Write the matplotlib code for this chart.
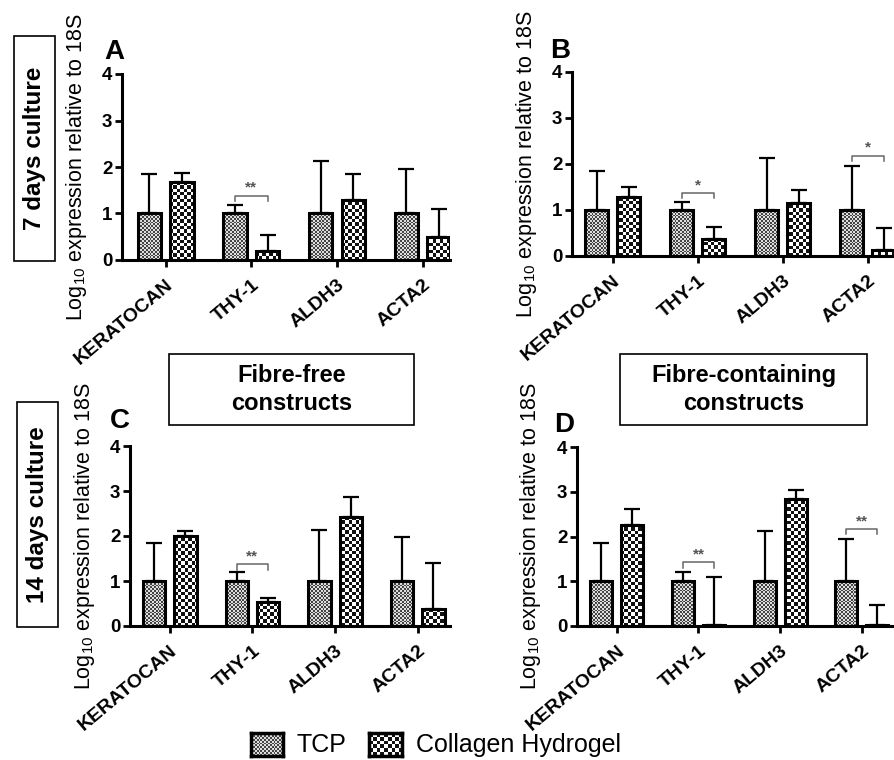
import numpy as np
import matplotlib
matplotlib.use("Agg")
import matplotlib.pyplot as plt
from matplotlib.patches import Rectangle

plt.rcParams['font.family'] = ['Liberation Sans', 'DejaVu Sans']

W, H = 895, 760

genes = ["KERATOCAN", "THY-1", "ALDH3", "ACTA2"]
series_names = ["TCP", "Collagen Hydrogel"]

# mean log10 expression and upper error (SD) per panel
tcp_A = [1.0, 1.0, 1.0, 1.0]
tcp_err_A = [0.85, 0.19, 1.12, 0.95]
gel_A = [1.67, 0.20, 1.30, 0.50]
gel_err_A = [0.21, 0.34, 0.56, 0.60]

tcp_B = [1.0, 1.0, 1.0, 1.0]
tcp_err_B = [0.84, 0.18, 1.13, 0.96]
gel_B = [1.29, 0.38, 1.15, 0.12]
gel_err_B = [0.22, 0.24, 0.29, 0.48]

tcp_C = [1.0, 1.0, 1.0, 1.0]
tcp_err_C = [0.85, 0.20, 1.13, 0.97]
gel_C = [2.00, 0.53, 2.43, 0.37]
gel_err_C = [0.11, 0.10, 0.44, 1.02]

tcp_D = [1.0, 1.0, 1.0, 1.0]
tcp_err_D = [0.85, 0.20, 1.13, 0.95]
gel_D = [2.26, 0.02, 2.83, 0.02]
gel_err_D = [0.35, 1.07, 0.22, 0.46]

# significance brackets: (gene index, bracket height, label)
sig_A = [(1, 1.38, "**")]
sig_B = [(1, 1.37, "*"), (3, 2.18, "*")]
sig_C = [(1, 1.37, "**")]
sig_D = [(1, 1.42, "**"), (3, 2.17, "**")]

yticks = [0, 1, 2, 3, 4]

fig = plt.figure(figsize=(W / 100, H / 100), dpi=100)


def px_box(l, t, r, b):
    return [l / W, 1 - b / H, (r - l) / W, (b - t) / H]


def checker(ny, nx, c1, c2):
    yy, xx = np.mgrid[0:ny, 0:nx]
    m = (yy + xx) % 2
    a = np.array(matplotlib.colors.to_rgb(c1))
    b = np.array(matplotlib.colors.to_rgb(c2))
    return np.where(m[..., None] == 0, a, b)


PATTERNS = {
    "tcp": (1.8, "#444444", "#dedede"),
    "gel": (3.4, "#111111", "#ffffff"),
}


def fill_pattern(ax, patch, kind, xlim, ylim, wpx, hpx):
    cell, c1, c2 = PATTERNS[kind]
    nx = max(int(round(wpx / cell)), 1)
    ny = max(int(round(hpx / cell)), 1)
    im = ax.imshow(checker(ny, nx, c1, c2), extent=(xlim[0], xlim[1], ylim[0], ylim[1]),
                   aspect='auto', interpolation='nearest', zorder=2, origin='lower')
    im.set_clip_path(patch)


def panel(box, xlim, tcp, tcp_err, gel, gel_err, sigs, letter, letter_xy, ylab_x):
    l, t, r, b = box
    ax = fig.add_axes(px_box(l, t, r, b))
    wpx, hpx = r - l, b - t
    ylim = (0, 4)
    x = np.arange(len(genes))
    off, bw = 0.19, 0.27
    for vals, errs, sgn, kind in [(tcp, tcp_err, -1, "tcp"), (gel, gel_err, 1, "gel")]:
        pos = x + sgn * off
        bars = ax.bar(pos, vals, width=bw, facecolor='white', edgecolor='black',
                      linewidth=2.2, zorder=3)
        for p in bars.patches:
            p.set_facecolor('none')
            fill_pattern(ax, p, kind, xlim, ylim, wpx, hpx)
        ax.errorbar(pos, vals, yerr=[np.zeros(len(vals)), errs], fmt='none',
                    ecolor='black', elinewidth=1.6, capsize=5.5, capthick=1.6, zorder=2.5)
    for gi, hgt, lab in sigs:
        x0, x1 = gi - off, gi + off
        ax.plot([x0, x0, x1, x1], [hgt - 0.12, hgt, hgt, hgt - 0.12], color='#666666',
                linewidth=1.1, zorder=4, clip_on=False)
        ax.text(gi, hgt + 0.02, lab, ha='center', va='bottom', fontsize=11,
                color='#555555', fontweight='bold')
    ax.set_xlim(*xlim)
    ax.set_ylim(*ylim)
    ax.set_yticks(yticks)
    ax.set_yticklabels([str(v) for v in yticks], fontweight='bold', fontsize=13.5)
    ax.set_xticks(x)
    ax.set_xticklabels(genes, rotation=40, ha='right', rotation_mode='anchor',
                       fontweight='bold', fontsize=14)
    ax.tick_params(axis='both', direction='out', length=5, width=2, color='black', pad=2)
    ax.tick_params(axis='x', pad=7)
    for s in ['top', 'right']:
        ax.spines[s].set_visible(False)
    for s in ['left', 'bottom']:
        ax.spines[s].set_linewidth(2.2)
    ax.set_ylabel(r"Log$_{\mathregular{10}}$ expression relative to 18S", fontsize=15.5)
    ax.yaxis.set_label_coords((ylab_x - l) / wpx, 0.5)
    fig.text(letter_xy[0] / W, 1 - letter_xy[1] / H, letter, ha='center', va='center',
             fontsize=20, fontweight='bold')
    return ax


panel((122, 74, 450, 260), (-0.51, 3.32), tcp_A, tcp_err_A, gel_A, gel_err_A, sig_A,
      "A", (114, 52), 89)
panel((572, 72, 895, 256), (-0.48, 3.32), tcp_B, tcp_err_B, gel_B, gel_err_B, sig_B,
      "B", (560, 51), 539)
panel((130, 446, 450, 626), (-0.48, 3.39), tcp_C, tcp_err_C, gel_C, gel_err_C, sig_C,
      "C", (120, 421), 97)
panel((577, 447, 895, 626), (-0.49, 3.41), tcp_D, tcp_err_D, gel_D, gel_err_D, sig_D,
      "D", (564, 425), 543)


def boxed_text(l, t, r, b, text, rot=0, fs=14):
    fig.patches.append(Rectangle((l / W, 1 - b / H), (r - l) / W, (b - t) / H,
                                 transform=fig.transFigure, facecolor='white',
                                 edgecolor='black', linewidth=1.2))
    fig.text((l + r) / 2 / W, 1 - (t + b) / 2 / H, text, ha='center', va='center',
             rotation=rot, fontsize=fs, fontweight='bold', linespacing=1.3)


boxed_text(14, 36, 55, 261, "7 days culture", rot=90, fs=17.5)
boxed_text(17, 402, 58, 627, "14 days culture", rot=90, fs=17.5)
boxed_text(169, 354, 414, 425, "Fibre-free\nconstructs", fs=17)
boxed_text(620, 354, 867, 425, "Fibre-containing\nconstructs", fs=17)

# legend swatches
for (l, r), kind, name, tx in [((251, 283), "tcp", series_names[0], 297),
                                ((369, 402), "gel", series_names[1], 416)]:
    lax = fig.add_axes(px_box(l, 733, r, 756))
    cell, c1, c2 = PATTERNS[kind]
    lax.imshow(checker(int(23 / cell), int((r - l) / cell), c1, c2), aspect='auto',
               interpolation='nearest')
    lax.set_xticks([])
    lax.set_yticks([])
    for s in lax.spines.values():
        s.set_linewidth(2.5)
    fig.text(tx / W, 1 - 745 / H, name, ha='left', va='center', fontsize=18)

fig.savefig("out.png", dpi=100)
